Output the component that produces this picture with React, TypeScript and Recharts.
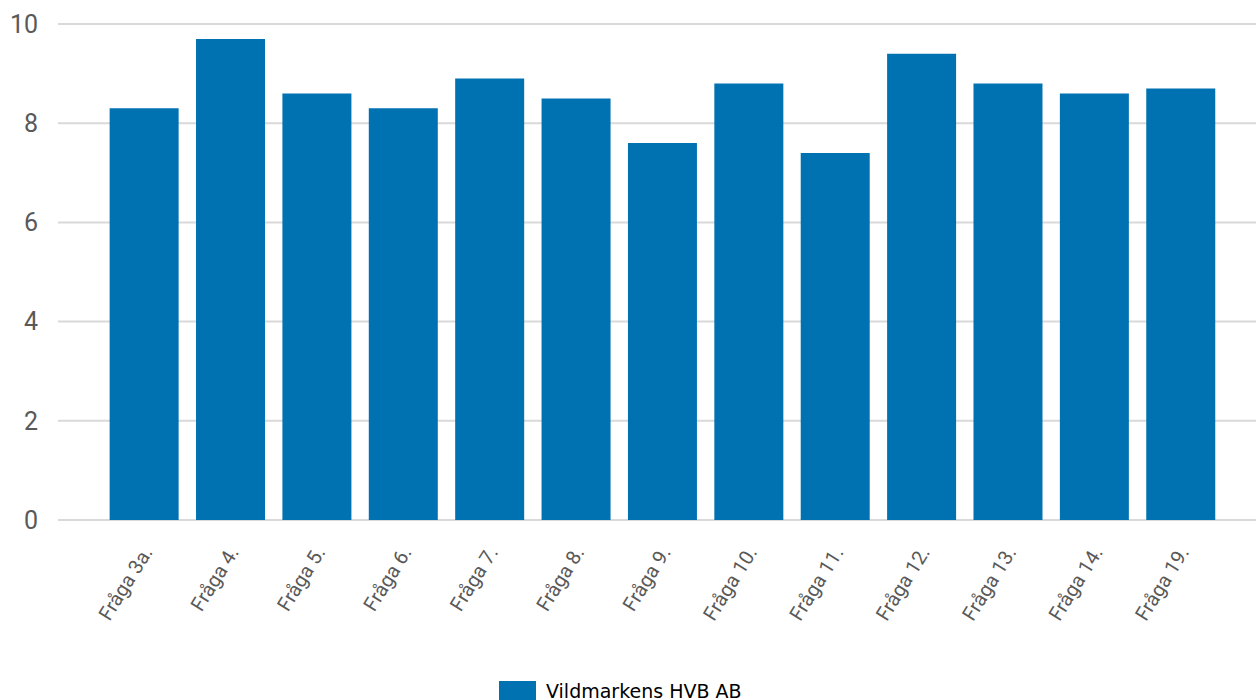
import { BarChart, Bar, XAxis, YAxis, CartesianGrid, Legend } from 'recharts';

const categories = ['Fråga 3a.', 'Fråga 4.', 'Fråga 5.', 'Fråga 6.', 'Fråga 7.', 'Fråga 8.', 'Fråga 9.', 'Fråga 10.', 'Fråga 11.', 'Fråga 12.', 'Fråga 13.', 'Fråga 14.', 'Fråga 19.'];
const scores = [8.3, 9.7, 8.6, 8.3, 8.9, 8.5, 7.6, 8.8, 7.4, 9.4, 8.8, 8.6, 8.7];
const yTicks = [0, 2, 4, 6, 8, 10];
const seriesName = 'Vildmarkens HVB AB';

const BLUE = '#0072B2';
const TEXT = '#595959';

const data = categories.map((name, i) => ({ name, value: scores[i] }));

const XTick = ({ x, y, payload }: any) => (
  <g transform={`translate(${x + 9},${y + 32})`}>
    <text transform="rotate(-58)" textAnchor="end" fill={TEXT} fontSize={20} fontFamily="Roboto, sans-serif">
      {payload.value}
    </text>
  </g>
);

const LegendBox = () => (
  <div style={{ display: 'flex', alignItems: 'center', fontFamily: '"DejaVu Sans", sans-serif', fontSize: 19, color: '#000', whiteSpace: 'nowrap' }}>
    <span style={{ display: 'inline-block', width: 37, height: 20, background: BLUE, marginRight: 10 }} />
    {seriesName}
  </div>
);

export default function App() {
  return (
    <div style={{ position: 'absolute', top: 0, left: 0, width: 1256, height: 700, overflow: 'hidden', background: '#fff' }}>
      <BarChart width={1256} height={700} data={data} barCategoryGap="10%" margin={{ top: 24, right: 0, left: 0, bottom: 0 }}>
        <CartesianGrid vertical={false} stroke="#d9d9d9" strokeWidth={2} />
        <XAxis
          dataKey="name"
          interval={0}
          height={160}
          padding={{ left: 43, right: 32 }}
          tickLine={false}
          axisLine={false}
          tickSize={0}
          tickMargin={0}
          tick={<XTick />}
        />
        <YAxis
          domain={[0, 10]}
          ticks={yTicks}
          width={58}
          tickLine={false}
          axisLine={false}
          tickSize={0}
          tickMargin={20}
          tick={{ fill: TEXT, fontSize: 25, fontFamily: 'Roboto, sans-serif' }}
        />
        <Legend
          content={<LegendBox />}
          wrapperStyle={{ position: 'absolute', top: 680, left: 499, width: 'auto', height: 20 }}
        />
        <Bar dataKey="value" name={seriesName} fill={BLUE} isAnimationActive={false} />
      </BarChart>
    </div>
  );
}
